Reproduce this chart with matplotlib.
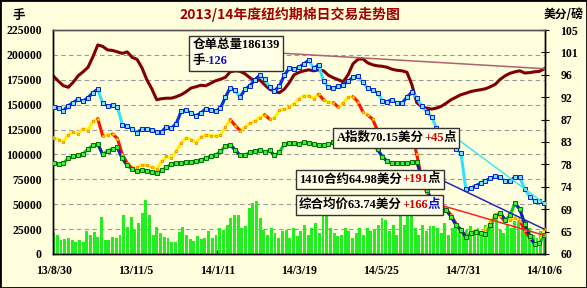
import numpy as np
import pandas as pd
import matplotlib
matplotlib.use("Agg")
import matplotlib.pyplot as plt
import matplotlib.dates as mdates
from matplotlib.offsetbox import TextArea, HPacker, VPacker, AnnotationBbox
from matplotlib.patches import Rectangle

plt.rcParams['font.family'] = ['Liberation Serif', 'Noto Sans CJK SC']
plt.rcParams['font.weight'] = 'bold'

# ---------------- data ----------------
start, end = "2013-08-30", "2014-10-06"
line_dates = pd.date_range(start, end, periods=101)
bar_dates = pd.date_range(start, end, periods=134)

warrants_k = [178.5, 173.5, 169, 167.5, 172.5, 179, 183, 187.5, 198, 210,
              208.5, 205, 204.5, 203, 201.5, 203, 197.5, 195.5, 187, 175,
              166, 155, 156, 156.5, 156.5, 158, 160, 163, 166.7, 168,
              169.5, 169, 171.5, 174, 175.5, 177.5, 183, 184, 183.5, 181,
              177, 173.5, 175, 170, 165.5, 163.5, 162, 165.5, 172, 180,
              182.5, 184, 185, 184, 185, 184, 179.5, 177, 175, 173,
              180, 191, 195.5, 196, 192, 190, 189, 188.5, 187.5, 185.5,
              184.5, 184, 182.5, 170, 152, 148, 146.5, 145.6, 146.5, 148.4,
              151.5, 155, 157.5, 160, 161.5, 163.2, 164.2, 165, 166, 168,
              170.5, 175.5, 179, 181.5, 183, 184, 181.8, 182.2, 183, 183.5,
              186.139]

a_index = [89.5, 89.3, 88.8, 89.8, 90.4, 91.1, 90.7, 91.4, 92.4, 93.1,
           90.3, 89.7, 89.9, 89.5, 86.0, 85.7, 85.2, 84.4, 85.1, 85.2,
           84.9, 84.6, 84.5, 85.6, 85.3, 86.2, 88.7, 89.0, 88.3, 87.8,
           88.3, 89.2, 89.0, 88.7, 89.3, 91.5, 93.4, 92.9, 91.5, 93.1,
           93.8, 95.0, 95.9, 95.1, 93.6, 92.8, 93.7, 95.9, 97.3, 97.1,
           97.5, 98.2, 98.9, 97.3, 98.0, 94.7, 93.5, 93.3, 93.7, 94.0,
           94.7, 95.5, 95.7, 94.5, 93.3, 92.9, 92.4, 90.8, 90.6, 91.0,
           90.3, 90.3, 91.5, 92.5, 91.4, 89.7, 88.6, 87.6, 85.3, 84.0,
           82.7, 81.9, 81.1, 80.3, 73.0, 73.2, 73.7, 74.2, 74.7, 75.2,
           75.6, 75.5, 74.6, 74.6, 75.5, 75.4, 73.0, 71.5, 70.7, 70.6,
           70.15]

c1410 = [83.3, 83.0, 82.6, 84.0, 84.5, 84.2, 85.2, 84.8, 86.7, 87.2,
         83.7, 84.0, 84.1, 83.2, 80.0, 78.2, 77.2, 77.4, 77.9, 77.8,
         77.5, 77.0, 78.6, 79.6, 79.3, 80.7, 82.3, 83.3, 83.0, 82.3,
         83.6, 83.9, 83.8, 83.7, 83.9, 85.5, 87.0, 85.8, 84.8, 85.5,
         86.3, 86.7, 87.4, 88.0, 87.1, 87.3, 88.9, 89.1, 89.5, 90.2,
         91.2, 91.7, 91.8, 91.2, 92.1, 91.0, 90.5, 90.4, 89.5, 90.3,
         91.5, 91.6, 90.6, 88.6, 87.9, 87.1, 84.8, 83.3, 83.0, 83.0,
         83.0, 83.2, 83.6, 84.0, 80.0, 75.0, 72.4, 71.3, 70.5, 69.8,
         69.0, 67.8, 66.0, 64.7, 63.5, 64.3, 64.8, 64.3, 64.6, 66.5,
         68.0, 67.6, 66.6, 66.8, 67.3, 66.6, 64.8, 63.2, 62.1, 62.0,
         64.98]

composite = [78.3, 78.0, 78.3, 79.2, 79.6, 79.9, 80.1, 81.1, 81.8, 82.1,
             80.0, 80.7, 81.1, 81.4, 79.2, 77.8, 77.0, 76.6, 76.9, 76.7,
             76.5, 76.3, 76.8, 77.4, 78.1, 78.3, 78.3, 78.5, 78.4, 78.7,
             78.9, 79.2, 79.7, 79.9, 80.6, 81.7, 81.9, 80.9, 79.8, 79.9,
             80.4, 80.7, 80.9, 80.5, 80.8, 79.8, 80.4, 82.1, 82.3, 82.2,
             82.1, 82.5, 82.3, 82.0, 81.9, 81.8, 82.0, 82.4, 82.6, 82.8,
             82.6, 82.5, 82.7, 82.4, 82.2, 81.8, 81.0, 79.5, 78.6, 78.2,
             78.2, 78.2, 78.2, 78.4, 78.5, 75.5, 72.8, 71.0, 70.2, 69.5,
             68.8, 67.5, 65.8, 64.9, 63.4, 64.2, 64.5, 64.2, 64.0, 65.8,
             67.6, 68.3, 66.8, 67.8, 70.2, 69.0, 66.0, 63.6, 62.0, 62.2,
             63.74]

volume_k = [21, 19, 14, 15, 16, 14, 12, 14, 12, 23,
            19, 22, 17, 37.5, 14, 14, 17, 16, 19, 39,
            27.5, 37.5, 24, 30.8, 40.9, 54.2, 39, 19, 27.5, 20.8,
            17.4, 15.8, 12.4, 12, 22.4, 27.5, 19, 15, 13, 17.8,
            15, 16, 22.8, 16, 19.4, 26.1, 24.4, 29.4, 36.2, 39.5,
            39.5, 26.1, 27.8, 46.2, 51.2, 52.9, 36.2, 24.4, 19.4, 26.1,
            21, 16, 22.8, 24.4, 16, 26, 17.8, 22.8, 29.4, 19.4,
            26.1, 31.1, 21, 37.9, 39.5, 26.1, 21, 17.8, 19.4, 26.1,
            22.8, 16.1, 21, 26.1, 19.4, 26.1, 22.8, 25, 29.4, 36.2,
            34.5, 22.8, 29.4, 19.4, 41.2, 29.4, 37.9, 39.5, 26.1, 19.4,
            29.4, 22.8, 27.8, 28, 26.1, 21, 31.1, 19.4, 26.1, 32.8,
            26.1, 19.4, 24.4, 27.8, 21, 26.1, 19.4, 29.4, 26.1, 32.8,
            36.2, 24.4, 21, 29.4, 26.1, 32.8, 36.2, 27.8, 34.5, 26.1,
            19.4, 16, 22.8, 15]

warrants = np.array(warrants_k) * 1000
volume = np.array(volume_k) * 1000
a_index = np.array(a_index)
c1410 = np.array(c1410)
composite = np.array(composite)

title = "2013/14年度纽约期棉日交易走势图"
left_unit = "手"
right_unit = "美分/磅"
tick_dates = pd.date_range(start, end, freq="67D")

# ---------------- figure ----------------
bg = "#FFFFDD"
W, H = 587, 288
fig = plt.figure(figsize=(W / 100, H / 100), dpi=100, facecolor=bg)
fig.patches.append(Rectangle((0, 0), 1, 1, transform=fig.transFigure,
                             fill=False, ec="black", lw=2))

L, R, T, B = 53, 545, 30, 254
ax1 = fig.add_axes([L / W, 1 - B / H, (R - L) / W, (B - T) / H])
ax1.set_facecolor(bg)
ax2 = ax1.twinx()

xd = mdates.date2num(line_dates)
xb = mdates.date2num(bar_dates)

ax1.bar(xb, volume, width=2.4, color="#22EE22", zorder=2, linewidth=0)
ax1.plot(xd, warrants, color="#800000", lw=2.2, zorder=3)
ax1.set_ylim(0, 225000)
ax1.set_yticks(np.arange(0, 225001, 25000))
ax1.set_xlim(mdates.date2num(pd.Timestamp(start)) - 0.5,
             mdates.date2num(pd.Timestamp(end)) + 0.5)
ax1.set_xticks(mdates.date2num(tick_dates))
ax1.set_xticklabels([f"{d.year % 100}/{d.month}/{d.day}" for d in tick_dates])
ax1.yaxis.grid(True, ls=(0, (4, 3)), color="#9A9A9A", lw=0.8, zorder=1)
ax1.set_axisbelow(True)


def seg_line(ax, x, y, base, alt, cond, lw, mfc, mec, ms):
    ax.plot(x, y, color=base, lw=lw, zorder=3, solid_joinstyle="round")
    d = np.diff(y)
    for i in range(len(d)):
        if cond(d[i]):
            ax.plot(x[i:i + 2], y[i:i + 2], color=alt, lw=lw, zorder=3.1,
                    solid_capstyle="round")
    ax.plot(x, y, ls="none", marker="s", ms=ms, mfc=mfc, mec=mec, mew=0.7,
            zorder=3.2)


seg_line(ax2, xd, a_index, "#33E0FF", "#1030E0", lambda v: v > 0.3, 2.2,
         "#7FDFFF", "#0020D0", 2.5)
seg_line(ax2, xd, c1410, "#FFF000", "#FF1010", lambda v: v < -0.8, 2.2,
         "#FFF000", "#FF9000", 2.1)
seg_line(ax2, xd, composite, "#10C020", "#1020C0", lambda v: v < -0.8, 2.2,
         "#40F040", "#007000", 2.3)

ax2.set_ylim(60, 105)
rt = np.linspace(60, 105, 11)
ax2.set_yticks(rt)
ax2.set_yticklabels([str(int(v + 0.5)) for v in rt])

for ax in (ax1, ax2):
    for s in ax.spines.values():
        s.set_color("black")
        s.set_linewidth(1)
    ax.spines["top"].set_color("#555555")

ax1.tick_params(axis="y", length=0, pad=8, labelsize=8.5)
ax1.tick_params(axis="x", length=3, direction="in", pad=8, labelsize=8.5)
ax2.tick_params(axis="y", length=6, direction="inout", pad=8, labelsize=8.5)

fig.text(0.494, 1 - 14 / H, title, ha="center", va="center", color="#A00000",
         fontsize=10, fontweight="bold", family=["Noto Sans CJK SC"])
fig.text(12 / W, 1 - 15 / H, left_unit, ha="left", va="center", fontsize=9,
         fontweight="bold", family=["Noto Sans CJK SC"])
fig.text(583 / W, 1 - 15 / H, right_unit, ha="right", va="center", fontsize=8.5,
         fontweight="bold", family=["Noto Sans CJK SC"])


def rich(parts, size=9):
    return HPacker(children=[TextArea(t, textprops=dict(color=c, fontsize=size,
                                                        fontweight="bold"))
                             for t, c in parts],
                   align="baseline", pad=0, sep=0)


def box(ax, content, xy, xycoords, xybox, color):
    ab = AnnotationBbox(content, xy, xybox=xybox, xycoords=xycoords,
                        boxcoords="axes fraction", box_alignment=(0, 0.5),
                        pad=0.25, frameon=True,
                        bboxprops=dict(boxstyle="square,pad=0.25", fc="#FFFFE8",
                                       ec="#333333", lw=1),
                        arrowprops=dict(arrowstyle="-", color=color, lw=1.1,
                                        relpos=(1, 0.5), shrinkA=0, shrinkB=0),
                        zorder=10)
    ax.add_artist(ab)


last_x = xd[-1]
b1 = VPacker(children=[rich([(f"仓单总量{int(warrants[-1])}", "black")]),
                       rich([("手", "black"), ("-126", "#1010C0")])],
             align="left", pad=0, sep=3)
box(ax2, b1, (last_x, warrants[-1]), ax1.transData, (0.283, 0.897), "#B06070")
box(ax2, rich([(f"A指数{a_index[-1]:.2f}美分", "black"), ("+45", "#D00000"),
               ("点", "black")]),
    (last_x, a_index[-1]), "data", (0.577, 0.518), "#40E8E8")
box(ax2, rich([(f"1410合约{c1410[-1]:.2f}美分", "black"), ("+191", "#D00000"),
               ("点", "black")]),
    (last_x, c1410[-1]), "data", (0.50, 0.333), "#2828B0")
box(ax2, rich([(f"综合均价{composite[-1]:.2f}美分", "black"), ("+166", "#D00000"),
               ("点", "#1010C0")]),
    (last_x, composite[-1]), "data", (0.50, 0.219), "#FF2020")

fig.savefig("out.png", dpi=100, facecolor=bg)
